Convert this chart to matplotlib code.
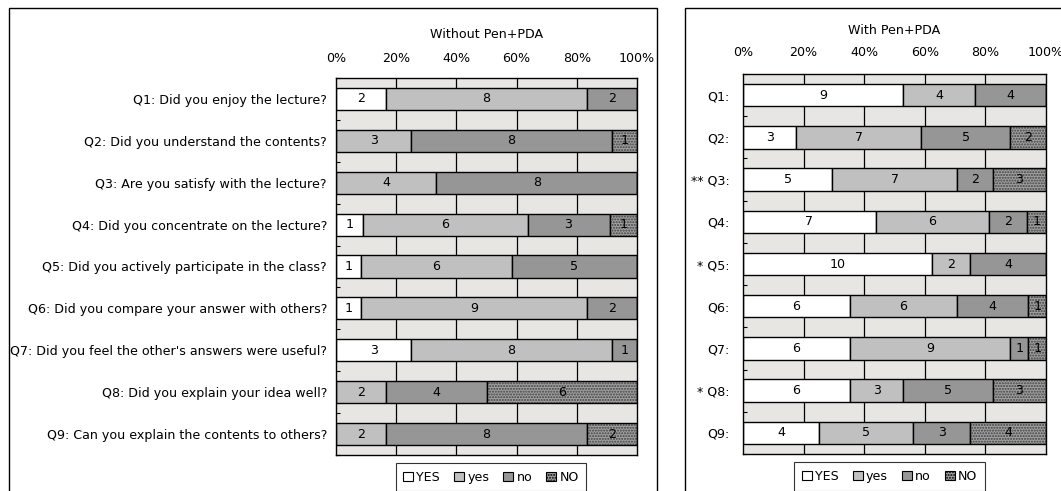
import matplotlib
matplotlib.use("Agg")
import matplotlib.pyplot as plt
from matplotlib.patches import Rectangle, Patch
import numpy as np

plt.rcParams['font.family'] = ['DejaVu Sans']
fs = 9.1

questions_left = [
    "Q1: Did you enjoy the lecture?",
    "Q2: Did you understand the contents?",
    "Q3: Are you satisfy with the lecture?",
    "Q4: Did you concentrate on the lecture?",
    "Q5: Did you actively participate in the class?",
    "Q6: Did you compare your answer with others?",
    "Q7: Did you feel the other's answers were useful?",
    "Q8: Did you explain your idea well?",
    "Q9: Can you explain the contents to others?",
]
questions_right = ["Q1:", "Q2:", "** Q3:", "Q4:", "* Q5:", "Q6:", "Q7:", "* Q8:", "Q9:"]

categories = ["YES", "yes", "no", "NO"]

# counts per question: YES, yes, no, NO
without_yes_big = [2, 0, 0, 1, 1, 1, 3, 0, 0]
without_yes = [8, 3, 4, 6, 6, 9, 8, 2, 2]
without_no = [2, 8, 8, 3, 5, 2, 1, 4, 8]
without_no_big = [0, 1, 0, 1, 0, 0, 0, 6, 2]

with_yes_big = [9, 3, 5, 7, 10, 6, 6, 6, 4]
with_yes = [4, 7, 7, 6, 2, 6, 9, 3, 5]
with_no = [4, 5, 2, 2, 4, 4, 1, 5, 3]
with_no_big = [0, 2, 3, 1, 0, 1, 1, 3, 4]

colors = ["#FFFFFF", "#C0C0C0", "#969696", "#A0A0A0"]
bg = "#E7E6E2"

W, H = 1061, 491
fig = plt.figure(figsize=(W / 100, H / 100), dpi=100)


def px_axes(x0, y0, x1, y1):
    return fig.add_axes([x0 / W, 1 - y1 / H, (x1 - x0) / W, (y1 - y0) / H])


def draw_panel(ax, labels, data, title, lab_pad, tick_pad, leg_x):
    counts = np.array(data, dtype=float).T
    totals = counts.sum(axis=1)
    pct = counts / totals[:, None] * 100
    y = np.arange(len(labels))
    ax.set_facecolor(bg)
    ax.set_xlim(0, 100)
    ax.set_ylim(len(labels) - 0.5, -0.5)
    for gx in [20, 40, 60, 80]:
        ax.axvline(gx, color="black", lw=0.9, zorder=1)
    left = np.zeros(len(labels))
    for j in range(4):
        if j == 3:
            ax.barh(y, pct[:, j], left=left, height=0.53, color=colors[j],
                    edgecolor="#404040", linewidth=0, hatch="......", zorder=2)
            ax.barh(y, pct[:, j], left=left, height=0.53, fill=False,
                    edgecolor="black", linewidth=1, zorder=3)
        else:
            ax.barh(y, pct[:, j], left=left, height=0.53, color=colors[j],
                    edgecolor="black", linewidth=1, zorder=2)
        for i in range(len(labels)):
            if counts[i, j] > 0:
                ax.text(left[i] + pct[i, j] / 2, y[i], "%d" % counts[i, j],
                        ha="center", va="center", fontsize=fs, zorder=4)
        left += pct[:, j]
    ax.xaxis.tick_top()
    ax.set_xticks([0, 20, 40, 60, 80, 100])
    ax.set_xticklabels(["0%", "20%", "40%", "60%", "80%", "100%"])
    ax.tick_params(axis="x", length=0, pad=tick_pad, labelsize=fs)
    ax.set_yticks(y)
    ax.set_yticklabels(labels)
    ax.tick_params(axis="y", length=0, pad=lab_pad, labelsize=fs)
    ax.set_yticks(np.arange(len(labels) + 1) - 0.5, minor=True)
    ax.tick_params(axis="y", which="minor", direction="in", length=3, width=0.8)
    for s in ax.spines.values():
        s.set_linewidth(1)
        s.set_zorder(5)
    ax.text(0.5, 1.115, title, transform=ax.transAxes, ha="center",
            va="center", fontsize=fs)
    handles = [Patch(facecolor=colors[k], edgecolor="black", linewidth=0.8,
                     hatch="......" if k == 3 else None) for k in range(4)]
    leg = ax.legend(handles, categories, loc="upper center", ncol=4,
                    bbox_to_anchor=(leg_x, -0.022), frameon=True,
                    fancybox=False, edgecolor="black", fontsize=fs,
                    handlelength=0.8, handleheight=0.8, handletextpad=0.25,
                    columnspacing=1.1, borderpad=0.6, borderaxespad=0)
    leg.get_frame().set_linewidth(0.8)


ax1 = px_axes(336, 78, 637, 455)
draw_panel(ax1, questions_left,
           [without_yes_big, without_yes, without_no, without_no_big],
           "Without Pen+PDA", 6.5, 9.0, 0.515)

ax2 = px_axes(743, 74, 1046, 454)
draw_panel(ax2, questions_right,
           [with_yes_big, with_yes, with_no, with_no_big],
           "With Pen+PDA", 9.5, 10.5, 0.4835)

# chart frames
fig.add_artist(Rectangle((9 / W, -0.1), (657 - 9) / W, 1.1 - 8 / H,
                         transform=fig.transFigure, fill=False,
                         edgecolor="black", lw=1))
fig.add_artist(Rectangle((685 / W, -0.1), 0.5, 1.1 - 8 / H,
                         transform=fig.transFigure, fill=False,
                         edgecolor="black", lw=1))

fig.savefig("out.png", dpi=100, facecolor="white")
